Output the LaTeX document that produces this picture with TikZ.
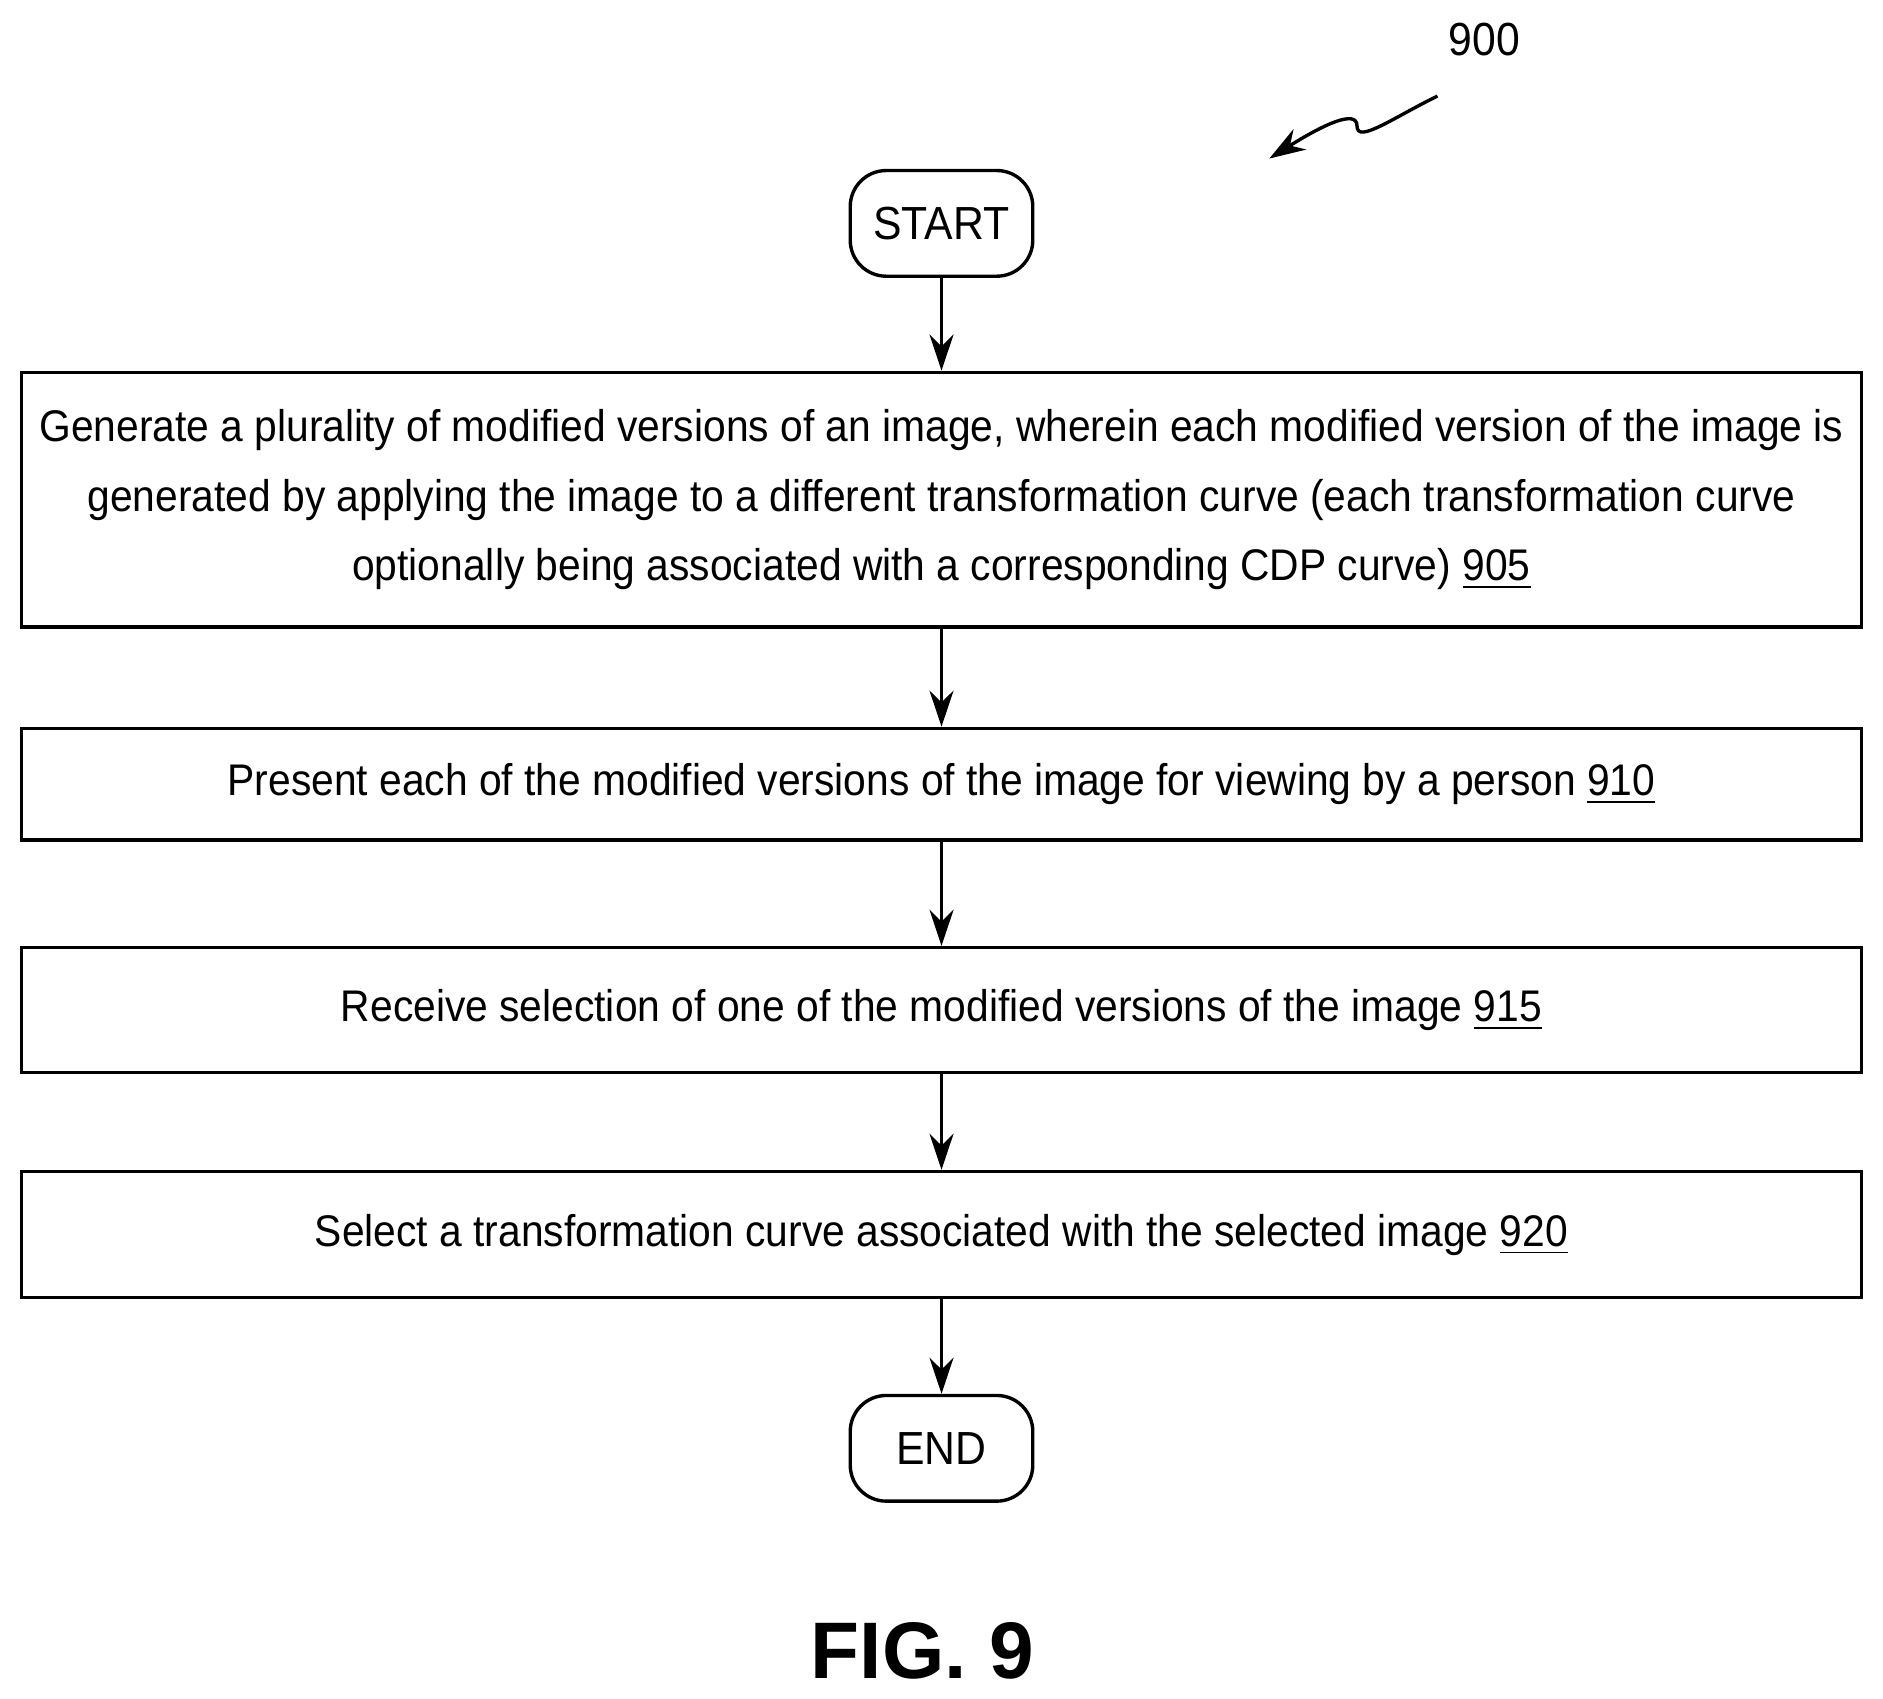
\documentclass[tikz,border=0pt]{standalone}
\usepackage{fontspec}
\setmainfont{Liberation Sans}
\newfontfamily\narrowfont[FakeStretch=0.92]{Liberation Sans}
\usetikzlibrary{arrows.meta}
\tikzset{
  term/.style={draw,thick,rounded corners=0.3cm,minimum width=1.52cm,minimum height=0.88cm,font=\narrowfont\fontsize{11pt}{13pt}\selectfont},
  stepbox/.style={draw,thick,inner xsep=1pt,minimum width=15.32cm,align=center,font=\narrowfont\fontsize{10.5pt}{16.5pt}\selectfont},
  flow/.style={thick,-{Stealth[length=0.3cm,width=0.2cm]}}
}
\begin{document}
\begin{tikzpicture}
  \useasboundingbox (0,0) rectangle (15.68,-14.14);
  \node[term] (start) at (7.84,-1.86) {START};
  \node[stepbox,minimum height=2.12cm] (s905) at (7.84,-4.16) {Generate a plurality of modified versions of an image, wherein each modified version of the image is\\generated by applying the image to a different transformation curve (each transformation curve\\optionally being associated with a corresponding CDP curve) \underline{905}};
  \node[stepbox,minimum height=0.93cm] (s910) at (7.84,-6.53) {Present each of the modified versions of the image for viewing by a person \underline{910}};
  \node[stepbox,minimum height=1.04cm] (s915) at (7.84,-8.41) {Receive selection of one of the modified versions of the image \underline{915}};
  \node[stepbox,minimum height=1.05cm] (s920) at (7.84,-10.28) {Select a transformation curve associated with the selected image \underline{920}};
  \node[term] (end) at (7.84,-12.06) {END};
  \draw[flow] (start) -- (s905);
  \draw[flow] (s905) -- (s910);
  \draw[flow] (s910) -- (s915);
  \draw[flow] (s915) -- (s920);
  \draw[flow] (s920) -- (end);
  % reference numeral
  \node[font=\narrowfont\fontsize{11pt}{13pt}\selectfont] (ref) at (12.36,-0.33) {900};
  \coordinate (tail) at (11.97,-0.80);
  \coordinate (tip) at (10.57,-1.32);
  \draw[thick,-{Stealth[length=0.3cm,width=0.2cm]}] (tail) .. controls (11.6,-0.98) and (11.3,-1.2) .. (11.3,-1.05)
    .. controls (11.3,-0.9) and (11.0,-1.05) .. (tip);
  \node[font=\bfseries\fontsize{19pt}{22pt}\selectfont] (fig) at (7.68,-13.75) {FIG. 9};
\end{tikzpicture}
\end{document}
